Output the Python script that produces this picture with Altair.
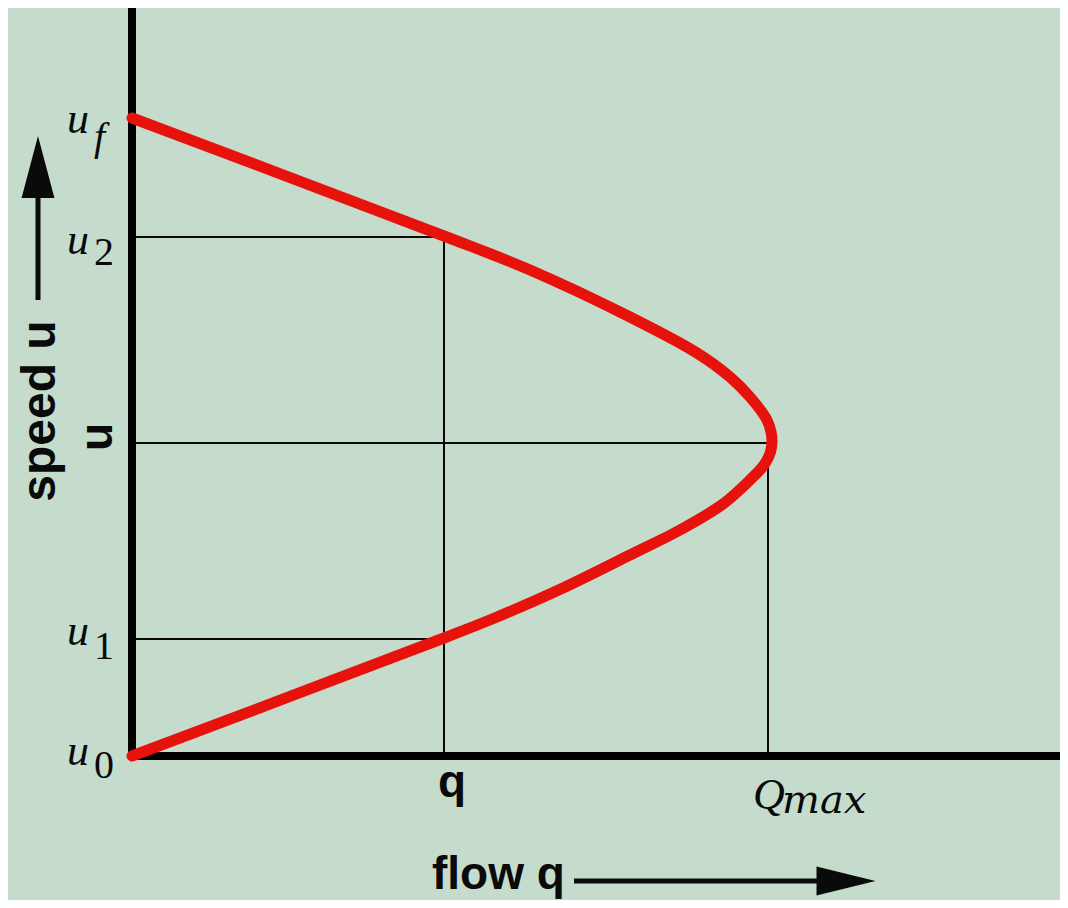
import altair as alt
import pandas as pd

# ---- data (arbitrary units) ----
# fundamental diagram: flow q versus speed u
flow_q = [0, 312, 365, 431, 498, 548, 591, 618, 632, 638.5, 640, 639, 635, 618, 598, 565, 498, 398, 312, 0]
speed_u = [0, 118, 139, 168, 201, 226, 252, 276, 291, 304, 314, 324, 336, 359, 379, 403, 439, 486, 520, 638]

# marked speed levels
u_names = ["u_f", "u_2", "u", "u_1", "u_0"]
u_levels = [638, 519, 313, 117, 0]

# marked flow levels
q_names = ["q", "Qmax"]
q_levels = [312, 636]

BG = "#c5dccd"
RED = "#e8120c"
INK = "#0a0a0a"

xs = alt.Scale(domain=[-124, 928], nice=False, zero=False)
ys = alt.Scale(domain=[-144, 748], nice=False, zero=False)


def X(f):
    return alt.X(f, type="quantitative", scale=xs, axis=None)


def Y(f):
    return alt.Y(f, type="quantitative", scale=ys, axis=None)


U = dict(zip(u_names, u_levels))
Q = dict(zip(q_names, q_levels))

# guide lines (drop lines from the curve to the axes)
seg = pd.DataFrame({
    "q0": [0, 0, 0, Q["q"], Q["Qmax"]],
    "q1": [Q["q"], Q["Qmax"], Q["q"], Q["q"], Q["Qmax"]],
    "u0": [U["u_2"], U["u"], U["u_1"], 0, 0],
    "u1": [U["u_2"], U["u"], U["u_1"], U["u_2"], U["u"]],
})
guides = alt.Chart(seg).mark_rule(color=INK, strokeWidth=2).encode(
    x=X("q0"), x2="q1", y=Y("u0"), y2="u1")

# axes lines
ax = pd.DataFrame({"q0": [0, -4], "q1": [0, 928], "u0": [-4, 0], "u1": [748, 0]})
axes = alt.Chart(ax).mark_rule(color="black", strokeWidth=8).encode(
    x=X("q0"), x2="q1", y=Y("u0"), y2="u1")

curve_df = pd.DataFrame({"q": flow_q, "u": speed_u, "i": list(range(len(flow_q)))})
curve = alt.Chart(curve_df).mark_line(
    color=RED, strokeWidth=11, interpolate="catmull-rom", strokeCap="round", strokeJoin="round"
).encode(x=X("q"), y=Y("u"), order=alt.Order("i:Q"))

one = pd.DataFrame({"a": [0]})
layers = [guides, axes, curve]

# y labels: italic u with subscript
serif = "Liberation Serif"
sub_spec = {
    # name: (u baseline dy, subscript text, subscript baseline dy, sub italic, sub x)
    "u_f": (15, "f", 32, True, 86),
    "u_2": (17, "2", 28, False, 86),
    "u_1": (6, "1", 20, False, 86),
    "u_0": (9, "0", 22, False, 86),
}
for name, (du, stxt, ds, ital, sx) in sub_spec.items():
    d = pd.DataFrame({"u": [U[name]]})
    layers.append(alt.Chart(d).mark_text(
        text="u", font=serif, fontStyle="italic", fontSize=44, align="left",
        baseline="alphabetic", dy=du, color=INK
    ).encode(x=alt.value(59), y=Y("u")))
    layers.append(alt.Chart(d).mark_text(
        text=stxt, font=serif, fontStyle="italic" if ital else "normal", fontSize=40,
        align="left", baseline="alphabetic", dy=ds, color=INK
    ).encode(x=alt.value(sx), y=Y("u")))

# middle 'u' label, rotated bold
layers.append(alt.Chart(pd.DataFrame({"u": [U["u"]]})).mark_text(
    text="u", font="Liberation Sans", fontWeight="bold", fontSize=46, angle=270,
    align="center", baseline="alphabetic", yOffset=-6, color=INK
).encode(x=alt.value(104), y=Y("u")))

# x labels
layers.append(alt.Chart(pd.DataFrame({"q": [Q["q"]], "u": [0]})).mark_text(
    text="q", font="Liberation Sans", fontWeight="bold", fontSize=46,
    align="center", baseline="alphabetic", dx=8, dy=41, color=INK
).encode(x=X("q"), y=Y("u")))
layers.append(alt.Chart(pd.DataFrame({"q": [Q["Qmax"]], "u": [0]})).mark_text(
    text="Q", font=serif, fontStyle="italic", fontSize=44,
    align="left", baseline="alphabetic", dx=-15, dy=53, color=INK
).encode(x=X("q"), y=Y("u")))
layers.append(alt.Chart(pd.DataFrame({"q": [Q["Qmax"]], "u": [0]})).mark_text(
    text="max", font="DejaVu Serif", fontStyle="italic", fontSize=40,
    align="left", baseline="alphabetic", dx=14, dy=57, color=INK
).encode(x=X("q"), y=Y("u")))

# axis titles with arrows
layers.append(alt.Chart(one).mark_text(
    text="speed u", font="Liberation Sans", fontWeight="bold", fontSize=48, angle=270,
    align="center", baseline="alphabetic", color=INK
).encode(x=alt.value(47), y=alt.value(403)))
layers.append(alt.Chart(one).mark_rule(color=INK, strokeWidth=5).encode(
    x=alt.value(30), y=alt.value(292), y2=alt.value(185)))
layers.append(alt.Chart(one).mark_point(
    shape="M -0.53 1 L 0 -1 L 0.53 1 Z", size=3844, filled=True, opacity=1,
    color=INK, strokeWidth=0
).encode(x=alt.value(30), y=alt.value(159)))

layers.append(alt.Chart(one).mark_text(
    text="flow q", font="Liberation Sans", fontWeight="bold", fontSize=46,
    align="left", baseline="alphabetic", color=INK
).encode(x=alt.value(424), y=alt.value(881)))
layers.append(alt.Chart(one).mark_rule(color=INK, strokeWidth=5).encode(
    x=alt.value(566), x2=alt.value(820), y=alt.value(873)))
layers.append(alt.Chart(one).mark_point(
    shape="M -1 -0.49 L 1 0 L -1 0.49 Z", size=3481, filled=True, opacity=1,
    color=INK, strokeWidth=0
).encode(x=alt.value(838), y=alt.value(873)))

chart = alt.layer(*layers).properties(
    width=1052, height=892, background=BG, padding=0,
    autosize=alt.AutoSizeParams(type="none")
).configure_view(stroke=None)

chart.save("out.html", embed_options={"renderer": "svg", "actions": False})
